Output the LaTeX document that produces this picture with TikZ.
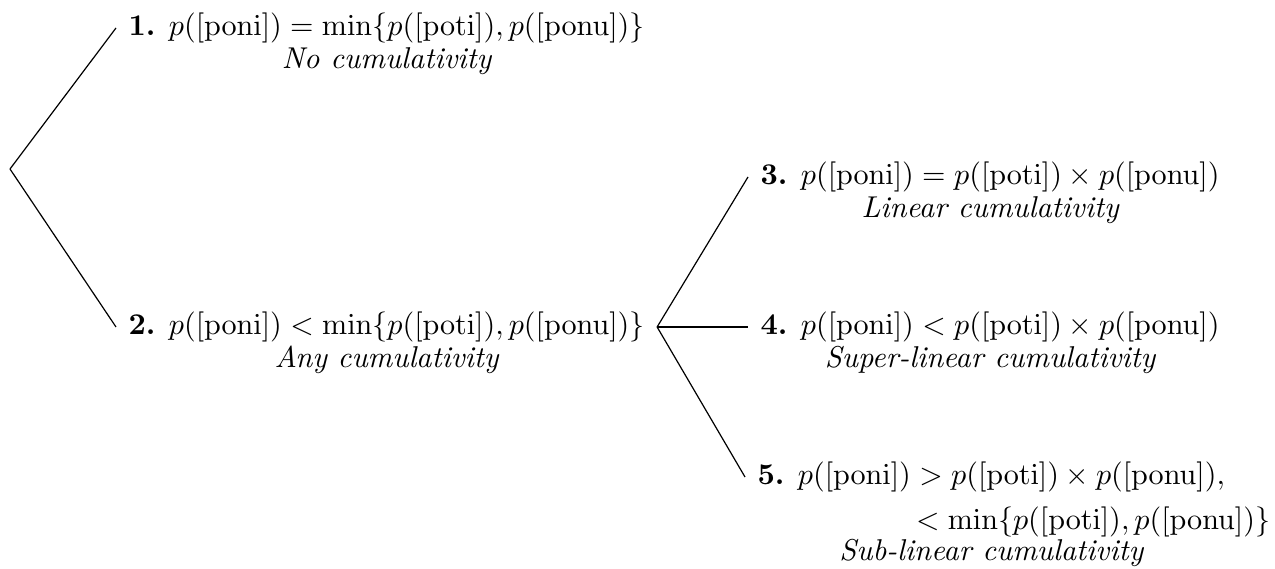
\documentclass[tikz,border=0pt]{standalone}
\usetikzlibrary{calc}
\newcommand{\pp}[1]{p([\mathrm{#1}])}
\begin{document}
\begin{tikzpicture}[x=0.332pt,y=-0.332pt,
  formula/.style={anchor=west,inner xsep=4pt,inner ysep=0pt},
  lab/.style={anchor=base,inner sep=0pt,font=\itshape},
  edge/.style={draw=black,line width=0.4pt}]
\useasboundingbox (0,0) rectangle (1275,569);
\coordinate (root) at (10,169);
\node[formula] (n1) at (116,28) {\textbf{1.} $\pp{poni} = \min\{\pp{poti}, \pp{ponu}\}$};
\node[formula] (n2) at (116,327) {\textbf{2.} $\pp{poni} < \min\{\pp{poti}, \pp{ponu}\}$};
\node[formula] (n3) at (748,177) {\textbf{3.} $\pp{poni} = \pp{poti} \times \pp{ponu}$};
\node[formula] (n4) at (748,327) {\textbf{4.} $\pp{poni} < \pp{poti} \times \pp{ponu}$};
\node[formula] (n5) at (745,477) {\textbf{5.} $\pp{poni} > \pp{poti} \times \pp{ponu},$};
\node[formula,anchor=base west] (n5b) at ($(n5.base west)+(0,45)$) {\textbf{\phantom{5.}} $\phantom{\pp{poni}} < \min\{\pp{poti}, \pp{ponu}\}$};
\node[lab] (l1) at ($(n1.base)+(0,33)$) {No cumulativity};
\node[lab] (l2) at ($(n2.base)+(0,33)$) {Any cumulativity};
\node[lab] (l3) at ($(n3.base)+(0,33)$) {Linear cumulativity};
\node[lab] (l4) at ($(n4.base)+(0,33)$) {Super-linear cumulativity};
\node[lab] (l5) at ($(n5.base)+(0,76)$) {Sub-linear cumulativity};
\draw[edge] (root) -- (n1.west);
\draw[edge] (root) -- (n2.west);
\draw[edge] (n2.east) -- (n3.west);
\draw[edge] (n2.east) -- (n4.west);
\draw[edge] (n2.east) -- (n5.west);
\end{tikzpicture}
\end{document}
